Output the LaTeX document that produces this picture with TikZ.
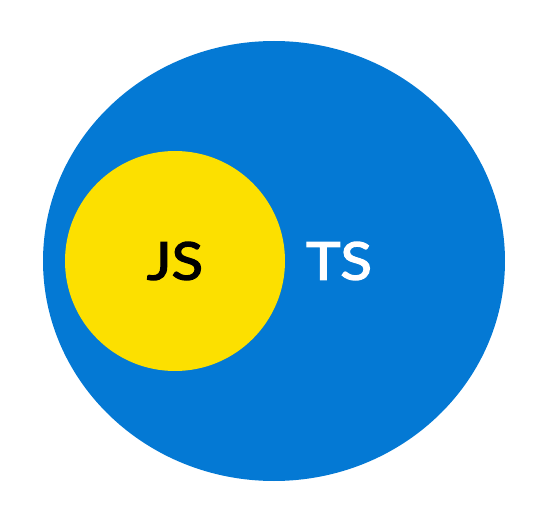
\documentclass[tikz,border=0pt]{standalone}
\usepackage{fontspec}
\newfontfamily\labelfont{Lato}[FakeStretch=1.12, FakeBold=2.6]
\usepackage{tikz}
\usetikzlibrary{shapes}
\usetikzlibrary{positioning,calc}

\definecolor{tsblue}{HTML}{0479D4}
\definecolor{jsyellow}{HTML}{FCE000}

\begin{document}
\begin{tikzpicture}[x=1pt, y=1pt,
    set/.style={ellipse, inner sep=0pt},
    setname/.style={font=\labelfont\fontsize{52}{52}\selectfont, inner sep=0pt}]
    \useasboundingbox (0,0) rectangle (547,523);
    \node (ts) [set, fill=tsblue, minimum width=462pt, minimum height=440pt] at (274,262) {};
    \node (js) [set, fill=jsyellow, minimum width=220pt, minimum height=220pt] at (175,262) {};
    % names of the two sets
    \node (jsname) [setname, text=black] at (js.center) {JS};
    \node (tsname) [setname, text=white] at (339,262) {TS};
  \end{tikzpicture}
\end{document}
